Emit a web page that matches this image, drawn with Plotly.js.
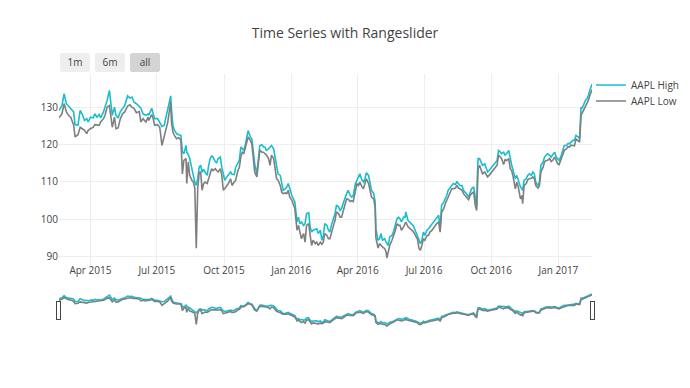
<!DOCTYPE html>
<html>
<head>
<meta charset="utf-8">
<script src="https://cdn.plot.ly/plotly-3.0.1.min.js"></script>
<style>html,body{margin:0;padding:0;background:#fff;}#chart{width:690px;height:388px;}</style>
</head>
<body>
<div id="chart"></div>
<script>
var dates = [
"2015-02-17","2015-02-21","2015-02-24","2015-02-27","2015-03-02","2015-03-05","2015-03-09","2015-03-11","2015-03-15","2015-03-18",
"2015-03-21","2015-03-24","2015-03-27","2015-03-29","2015-04-01","2015-04-05","2015-04-07","2015-04-10","2015-04-13","2015-04-15",
"2015-04-19","2015-04-21","2015-04-24","2015-04-27","2015-04-29","2015-05-01","2015-05-04","2015-05-06","2015-05-09","2015-05-12",
"2015-05-15","2015-05-18","2015-05-22","2015-05-25","2015-05-28","2015-05-31","2015-06-03","2015-06-07","2015-06-09","2015-06-12",
"2015-06-16","2015-06-19","2015-06-20","2015-06-24","2015-06-26","2015-06-28","2015-07-02","2015-07-05","2015-07-08","2015-07-11",
"2015-07-13","2015-07-16","2015-07-18","2015-07-20","2015-07-21","2015-07-23","2015-07-25","2015-07-28","2015-07-31","2015-08-03",
"2015-08-05","2015-08-07","2015-08-10","2015-08-11","2015-08-13","2015-08-15","2015-08-18","2015-08-20","2015-08-22","2015-08-24",
"2015-08-26","2015-08-28","2015-08-30","2015-09-01","2015-09-03","2015-09-05","2015-09-08","2015-09-10","2015-09-12","2015-09-14",
"2015-09-16","2015-09-19","2015-09-21","2015-09-23","2015-09-26","2015-09-28","2015-09-30","2015-10-02","2015-10-05","2015-10-07",
"2015-10-10","2015-10-12","2015-10-15","2015-10-17","2015-10-20","2015-10-22","2015-10-24","2015-10-26","2015-10-28","2015-10-30",
"2015-11-01","2015-11-03","2015-11-06","2015-11-08","2015-11-10","2015-11-12","2015-11-15","2015-11-17","2015-11-19","2015-11-22",
"2015-11-24","2015-11-26","2015-11-28","2015-12-01","2015-12-03","2015-12-05","2015-12-08","2015-12-10","2015-12-12","2015-12-14",
"2015-12-17","2015-12-19","2015-12-21","2015-12-24","2015-12-26","2015-12-28","2015-12-30","2016-01-02","2016-01-04","2016-01-06",
"2016-01-09","2016-01-11","2016-01-13","2016-01-15","2016-01-18","2016-01-20","2016-01-22","2016-01-25","2016-01-27","2016-01-29",
"2016-01-31","2016-02-03","2016-02-05","2016-02-07","2016-02-10","2016-02-12","2016-02-14","2016-02-16","2016-02-19","2016-02-21",
"2016-02-23","2016-02-25","2016-02-28","2016-03-01","2016-03-03","2016-03-06","2016-03-08","2016-03-10","2016-03-13","2016-03-15",
"2016-03-17","2016-03-19","2016-03-22","2016-03-24","2016-03-26","2016-03-29","2016-03-31","2016-04-02","2016-04-04","2016-04-07",
"2016-04-09","2016-04-11","2016-04-13","2016-04-16","2016-04-18","2016-04-20","2016-04-23","2016-04-25","2016-04-26","2016-04-29",
"2016-05-01","2016-05-03","2016-05-05","2016-05-08","2016-05-10","2016-05-11","2016-05-13","2016-05-15","2016-05-18","2016-05-20",
"2016-05-22","2016-05-25","2016-05-27","2016-05-29","2016-05-31","2016-06-03","2016-06-05","2016-06-06","2016-06-09","2016-06-11",
"2016-06-13","2016-06-16","2016-06-18","2016-06-20","2016-06-22","2016-06-24","2016-06-26","2016-06-28","2016-06-30","2016-07-02",
"2016-07-05","2016-07-07","2016-07-09","2016-07-12","2016-07-14","2016-07-16","2016-07-18","2016-07-21","2016-07-23","2016-07-25",
"2016-07-28","2016-07-30","2016-08-01","2016-08-03","2016-08-06","2016-08-08","2016-08-10","2016-08-13","2016-08-15","2016-08-17",
"2016-08-19","2016-08-22","2016-08-24","2016-08-26","2016-08-28","2016-08-31","2016-09-02","2016-09-04","2016-09-07","2016-09-09",
"2016-09-11","2016-09-12","2016-09-13","2016-09-15","2016-09-17","2016-09-19","2016-09-22","2016-09-24","2016-09-26","2016-09-28",
"2016-10-02","2016-10-04","2016-10-06","2016-10-09","2016-10-11","2016-10-13","2016-10-15","2016-10-18","2016-10-20","2016-10-22",
"2016-10-25","2016-10-27","2016-10-29","2016-10-31","2016-11-03","2016-11-05","2016-11-07","2016-11-10","2016-11-12","2016-11-13",
"2016-11-15","2016-11-18","2016-11-20","2016-11-22","2016-11-25","2016-11-27","2016-11-29","2016-12-01","2016-12-04","2016-12-06",
"2016-12-08","2016-12-11","2016-12-13","2016-12-15","2016-12-17","2016-12-20","2016-12-22","2016-12-24","2016-12-27","2016-12-29",
"2016-12-31","2017-01-02","2017-01-05","2017-01-07","2017-01-09","2017-01-12","2017-01-14","2017-01-16","2017-01-18","2017-01-21",
"2017-01-23","2017-01-25","2017-01-28","2017-01-30","2017-02-01","2017-02-02","2017-02-04","2017-02-07","2017-02-09","2017-02-11",
"2017-02-13","2017-02-16"
];

var aaplHigh = [
129.1,130.4,133.6,130.9,130.3,129.6,128.7,125.3,125.1,129.1,
128.0,126.4,126.9,126.0,127.3,127.1,128.2,127.3,128.0,127.1,
128.7,130.0,131.8,134.5,131.3,127.8,130.0,127.8,127.1,128.8,
129.6,130.4,133.0,132.4,132.7,131.3,130.9,130.0,129.8,128.2,
127.8,128.2,127.8,129.7,128.5,126.9,126.9,126.0,124.8,125.1,
126.9,128.7,131.3,133.0,129.6,125.1,123.8,122.9,122.6,122.4,
118.0,117.5,119.7,117.9,117.3,116.2,113.5,111.5,109.9,109.0,
110.8,113.9,114.4,112.6,113.3,112.6,111.7,114.4,116.2,116.9,
116.6,115.4,115.1,116.2,116.6,113.9,111.7,110.4,111.3,111.9,
112.6,112.0,111.9,113.9,115.1,115.7,119.3,118.8,118.4,119.7,
121.5,123.7,122.0,121.5,118.4,114.8,112.1,116.6,119.7,119.9,
119.3,119.3,118.4,118.8,119.3,119.7,118.8,116.6,114.4,112.1,
111.7,109.0,107.7,108.1,108.6,109.5,108.1,106.3,105.4,104.6,
99.2,100.5,98.75,99.2,98.3,98.75,101.4,101.7,97.9,96.5,
97.0,97.2,97.4,96.1,97.0,94.3,95.6,98.75,98.3,97.0,
96.5,98.3,100.1,101.4,103.7,103.2,102.3,102.8,104.6,105.9,
106.8,107.7,106.3,105.9,106.3,109.5,110.4,111.3,112.1,110.4,
109.9,110.8,112.4,111.7,109.0,107.7,106.8,104.6,97.4,94.3,
94.7,96.1,94.3,94.7,93.8,93.4,92.9,95.2,95.6,96.5,
97.9,100.1,100.5,100.1,99.2,100.5,100.5,101.9,99.6,99.2,
98.75,98.3,97.4,96.5,95.6,94.3,93.4,94.3,96.5,95.6,
97.0,97.4,97.9,98.75,99.2,99.6,100.3,101.0,97.4,103.7,
104.6,105.4,106.3,107.7,108.6,109.0,109.5,109.2,110.1,109.5,
109.0,109.0,107.7,107.2,106.8,105.9,107.2,108.1,108.6,105.4,
103.2,111.7,116.2,116.2,115.3,114.4,114.8,113.5,112.6,113.0,
113.9,114.4,114.8,115.7,118.4,118.1,117.5,117.9,117.1,117.5,
118.4,115.7,114.4,113.0,110.8,111.7,110.4,108.6,108.1,107.7,
110.4,110.8,111.7,112.1,111.7,112.6,112.1,109.9,109.0,109.9,
114.4,115.3,116.6,117.1,117.5,117.1,116.6,117.2,117.9,116.6,
116.2,115.7,117.1,118.4,119.7,119.7,120.2,120.2,120.6,121.1,
121.1,122.4,122.0,121.5,130.0,129.6,130.4,131.8,132.2,133.1,
134.5,136.1
];

var aaplLow = [
127.1,128.2,130.9,128.8,127.8,127.3,125.3,122.0,122.6,124.6,
124.2,123.8,122.9,123.8,124.2,124.6,125.3,125.1,125.1,126.0,
126.9,127.8,130.0,130.4,127.8,124.6,127.3,124.2,124.4,126.9,
128.2,128.7,130.3,130.6,130.0,129.6,128.5,128.8,126.0,126.9,
126.0,127.3,126.4,128.0,126.9,125.1,125.3,124.6,119.7,122.0,
124.2,126.0,128.7,131.3,126.0,123.3,122.4,121.5,121.8,121.1,
112.1,115.7,116.2,109.5,115.3,111.7,110.4,109.9,108.3,92.2,
108.1,112.5,112.6,107.7,109.5,109.9,109.5,110.8,112.6,113.5,
113.0,113.5,113.0,112.6,113.5,111.7,107.7,108.1,109.0,109.5,
110.8,109.0,109.9,110.4,113.0,113.8,116.6,117.9,117.5,118.8,
120.6,122.0,121.1,120.2,116.6,112.6,111.3,114.8,118.4,117.9,
117.9,117.5,117.2,116.2,114.4,117.1,116.2,113.5,110.8,110.4,
109.0,107.2,106.8,107.0,106.8,107.7,105.9,105.0,104.1,102.8,
97.0,98.3,96.5,94.7,96.1,93.8,98.3,98.75,95.6,92.9,
94.3,93.4,93.8,92.9,93.8,93.2,93.8,96.1,95.6,94.7,
94.7,96.5,98.3,99.6,101.9,101.4,100.5,100.5,102.3,104.1,
105.4,105.3,104.7,104.9,104.7,107.7,109.5,109.0,109.9,108.6,
108.1,109.5,110.8,109.5,107.2,105.9,105.4,103.2,95.0,92.2,
93.4,92.9,92.5,92.1,91.2,89.55,91.6,92.9,94.3,95.2,
96.5,98.75,98.3,98.3,97.0,97.9,99.2,99.2,97.9,97.4,
97.2,96.7,96.1,95.4,94.6,92.2,91.6,92.9,94.7,94.3,
95.6,95.6,96.5,97.0,97.6,98.3,98.75,99.2,96.5,101.8,
102.8,104.1,105.0,106.3,107.2,108.1,108.1,108.3,109.0,108.3,
108.1,107.7,106.8,106.3,105.9,105.2,106.3,106.8,107.2,103.7,
102.3,109.9,113.5,114.4,113.5,112.1,112.6,111.7,111.3,111.7,
112.6,113.0,113.5,114.4,117.1,116.6,116.3,114.6,115.9,115.7,
116.2,113.5,113.0,111.3,108.1,109.9,108.6,105.4,106.3,104.1,
109.0,109.5,110.5,110.8,110.9,111.3,110.8,109.0,108.3,108.9,
112.6,113.9,115.3,115.7,115.7,116.2,115.4,115.7,116.6,115.7,
114.8,114.6,116.2,117.1,118.4,118.8,119.4,119.3,119.8,119.7,
119.6,121.5,121.1,120.6,127.8,128.2,129.1,130.4,130.9,131.8,
133.1,134.7
];

var seriesNames = ["AAPL High", "AAPL Low"];
var seriesColors = ["#17BECF", "#7F7F7F"];
var yRange = [86.87, 138.87];

var traces = [
  {type: "scatter", mode: "lines", name: seriesNames[0], x: dates, y: aaplHigh,
   line: {color: seriesColors[0], width: 1.6}, legend: "legend"},
  {type: "scatter", mode: "lines", name: seriesNames[1], x: dates, y: aaplLow,
   line: {color: seriesColors[1], width: 1.6}, legend: "legend2"}
];

var legendCommon = {font: {size: 10, color: "#444"}, xref: "container", yref: "container",
                    x: 591 / 690, xanchor: "left", yanchor: "middle", bgcolor: "rgba(0,0,0,0)"};

var layout = {
  width: 690, height: 388,
  font: {family: "Open Sans, verdana, arial, sans-serif", size: 10, color: "#444"},
  title: {text: "Time Series with Rangeslider", font: {size: 14, color: "#444"},
          x: 0.5, xref: "container", y: 1 - 33/388, yref: "container", yanchor: "middle"},
  margin: {l: 59, r: 98, t: 73.6, b: 120.3, autoexpand: false},
  showlegend: true,
  legend: Object.assign({}, legendCommon, {y: 1 - 85/388}),
  legend2: Object.assign({}, legendCommon, {y: 1 - 101/388}),
  xaxis: {
    type: "date",
    autorange: true,
    tickformat: "%b %Y",
    dtick: "M3",
    tick0: "2015-01-01",
    ticklabelstandoff: -5,
    gridcolor: "#eee",
    rangeselector: {
      buttons: [
        {count: 1, label: "1m", step: "month", stepmode: "backward"},
        {count: 6, label: "6m", step: "month", stepmode: "backward"},
        {step: "all"}
      ],
      font: {size: 10},
      x: 0.002, xanchor: "left",
      y: 1 + (73.6 - 62.5) / 194.1, yanchor: "middle"
    },
    rangeslider: {visible: true, thickness: 0.185}
  },
  yaxis: {type: "linear", autorange: false, range: yRange, gridcolor: "#eee", zeroline: false}
};

Plotly.newPlot("chart", traces, layout, {displayModeBar: false});
</script>
</body>
</html>
